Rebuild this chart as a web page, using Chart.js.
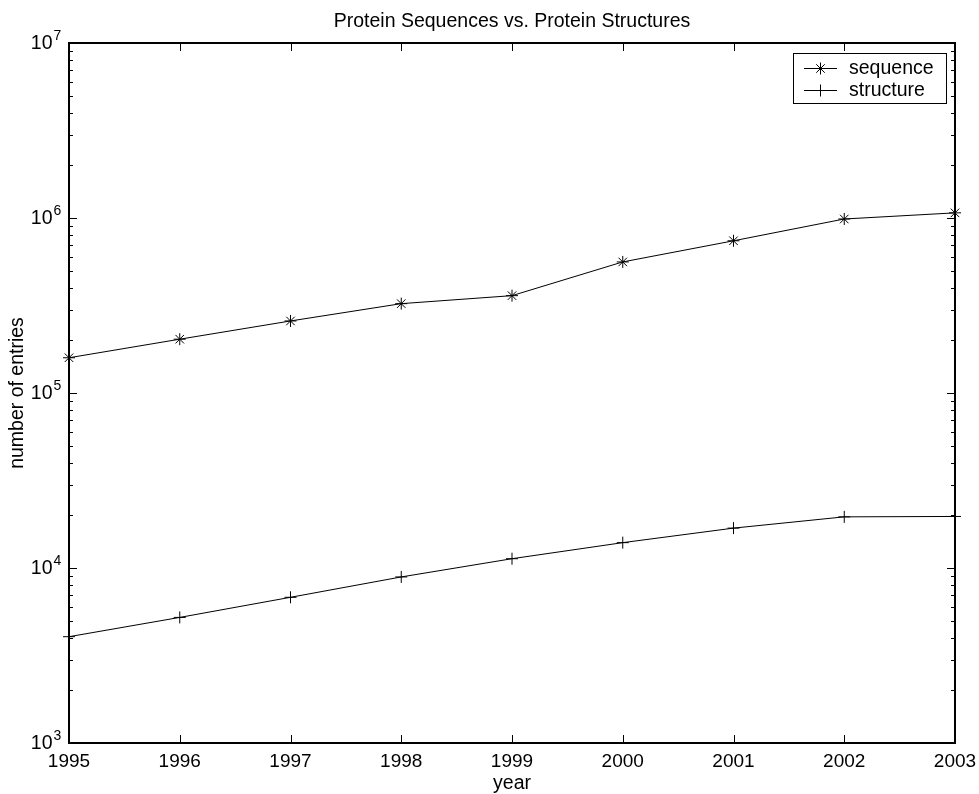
<!DOCTYPE html>
<html>
<head>
<meta charset="utf-8">
<title>Protein Sequences vs. Protein Structures</title>
<script src="https://cdn.jsdelivr.net/npm/chart.js@4.4.1/dist/chart.umd.min.js"></script>
<style>
  html, body { margin: 0; padding: 0; background: #fff; }
  canvas { display: block; }
</style>
</head>
<body>
<canvas id="chart" width="979" height="794"></canvas>
<script>
// data
const years = ["1995", "1996", "1997", "1998", "1999", "2000", "2001", "2002", "2003"];
const sequenceEntries = [159000, 203000, 258000, 324000, 360000, 561000, 741000, 987000, 1070000];
const structureEntries = [4050, 5220, 6800, 8890, 11300, 13960, 16900, 19600, 19700];
const yTickExponents = [3, 4, 5, 6, 7];
const chartTitle = "Protein Sequences vs. Protein Structures";

const FONT = "'Liberation Sans', Arial, Helvetica, sans-serif";
Chart.defaults.font.family = FONT;
Chart.defaults.color = "#000";

// box + inward ticks, matlab style
const boxAxes = {
    id: "boxAxes",
    beforeDatasetsDraw(chart) {
        const ctx = chart.ctx;
        const area = chart.chartArea;
        const xs = chart.scales.x;
        const ys = chart.scales.y;
        ctx.save();
        ctx.strokeStyle = "#000";
        ctx.lineWidth = 1;
        ctx.beginPath();
        years.forEach((yr, i) => {
            const px = Math.round(xs.getPixelForTick(i)) + 0.5;
            ctx.moveTo(px, area.bottom);
            ctx.lineTo(px, area.bottom - 8);
            ctx.moveTo(px, area.top);
            ctx.lineTo(px, area.top + 8);
        });
        yTickExponents.forEach((e) => {
            for (let m = 1; m <= 9; m++) {
                const v = m * Math.pow(10, e);
                if (v > ys.max) break;
                const py = Math.round(ys.getPixelForValue(v)) + 0.5;
                const len = m === 1 ? 8 : 4;
                ctx.moveTo(area.left, py);
                ctx.lineTo(area.left + len, py);
                ctx.moveTo(area.right, py);
                ctx.lineTo(area.right - len, py);
            }
        });
        ctx.stroke();
        ctx.lineWidth = 2;
        ctx.strokeRect(area.left, area.top, area.right - area.left, area.bottom - area.top);
        ctx.restore();
    },
    afterDraw(chart) {
        const ctx = chart.ctx;
        const area = chart.chartArea;
        const ys = chart.scales.y;
        ctx.save();
        ctx.fillStyle = "#000";

        // title
        ctx.font = "19.5px " + FONT;
        ctx.textAlign = "center";
        ctx.textBaseline = "alphabetic";
        ctx.fillText(chartTitle, (area.left + area.right) / 2, 27);

        // y tick labels 10^n
        yTickExponents.forEach((e) => {
            const py = ys.getPixelForValue(Math.pow(10, e));
            ctx.font = "19.5px " + FONT;
            ctx.textAlign = "right";
            ctx.textBaseline = "middle";
            ctx.fillText("10", 52.5, py + 1);
            ctx.font = "14px " + FONT;
            ctx.textAlign = "left";
            ctx.textBaseline = "alphabetic";
            ctx.fillText(String(e), 53.5, py - 3);
        });

        // legend
        const lx = 793, ly = 53, lw = 153, lh = 50;
        ctx.fillStyle = "#fff";
        ctx.fillRect(lx, ly, lw, lh);
        ctx.strokeStyle = "#000";
        ctx.lineWidth = 1;
        ctx.strokeRect(lx + 0.5, ly + 0.5, lw, lh);
        ctx.fillStyle = "#000";
        ctx.font = "19.5px " + FONT;
        ctx.textAlign = "left";
        ctx.textBaseline = "middle";
        chart.data.datasets.forEach((ds, i) => {
            const cy = Math.round(ly + 15 + i * 22) + 0.5;
            ctx.beginPath();
            ctx.moveTo(804, cy);
            ctx.lineTo(837, cy);
            ctx.stroke();
            Chart.helpers.drawPoint(ctx, {
                pointStyle: ds.pointStyle,
                radius: ds.pointRadius,
                rotation: 0,
                borderWidth: 1
            }, 820.5, cy);
            ctx.fillText(ds.label, 849, cy);
        });
        ctx.restore();
    }
};

new Chart(document.getElementById("chart"), {
    type: "line",
    data: {
        labels: years,
        datasets: [
            {
                label: "sequence",
                data: sequenceEntries,
                borderColor: "#000",
                backgroundColor: "#000",
                borderWidth: 1,
                pointStyle: "star",
                pointRadius: 6,
                pointBorderColor: "#000",
                pointBorderWidth: 1,
                fill: false,
                tension: 0,
                clip: false
            },
            {
                label: "structure",
                data: structureEntries,
                borderColor: "#000",
                backgroundColor: "#000",
                borderWidth: 1,
                pointStyle: "cross",
                pointRadius: 6,
                pointBorderColor: "#000",
                pointBorderWidth: 1,
                fill: false,
                tension: 0,
                clip: false
            }
        ]
    },
    options: {
        responsive: false,
        animation: false,
        layout: { padding: { top: 43, right: 24, bottom: 0, left: 0 } },
        plugins: {
            legend: { display: false },
            title: { display: false },
            tooltip: { enabled: false }
        },
        scales: {
            x: {
                type: "category",
                offset: false,
                grid: { display: false, drawTicks: false },
                border: { display: false },
                ticks: {
                    autoSkip: false,
                    maxRotation: 0,
                    padding: 7,
                    font: { size: 19 }
                },
                title: {
                    display: true,
                    text: "year",
                    font: { size: 19.5 },
                    padding: { top: 0, bottom: -1 }
                },
                afterFit: (scale) => {
                    scale.height = 51;
                    scale.paddingLeft = 0;
                    scale.paddingRight = 0;
                }
            },
            y: {
                type: "logarithmic",
                min: 1000,
                max: 10000000,
                grid: { display: false, drawTicks: false },
                border: { display: false },
                ticks: { display: false },
                title: {
                    display: true,
                    text: "number of entries",
                    font: { size: 19.5 },
                    padding: { top: 6, bottom: 0 }
                },
                afterFit: (scale) => { scale.width = 69; }
            }
        }
    },
    plugins: [boxAxes]
});
</script>
</body>
</html>
